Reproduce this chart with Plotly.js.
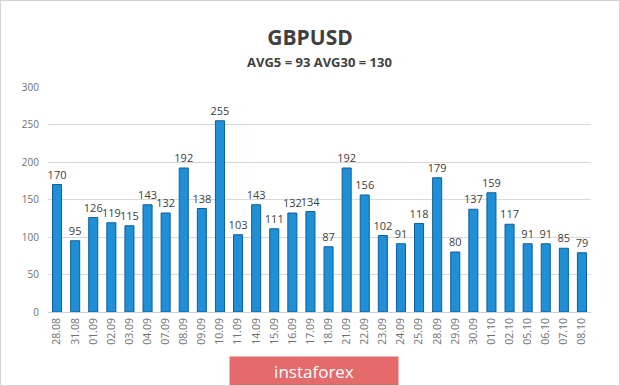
<!DOCTYPE html>
<html>
<head>
<meta charset="utf-8">
<script src="https://cdn.plot.ly/plotly-3.0.1.min.js"></script>
<style>
html,body{margin:0;padding:0;background:#fff;}
#chart{width:620px;height:386px;box-sizing:border-box;border:1px solid #d4d4d4;}
</style>
</head>
<body>
<div id="chart"></div>
<script>
const dates = ["28.08","31.08","01.09","02.09","03.09","04.09","07.09","08.09","09.09","10.09",
  "11.09","14.09","15.09","16.09","17.09","18.09","21.09","22.09","23.09","24.09",
  "25.09","28.09","29.09","30.09","01.10","02.10","05.10","06.10","07.10","08.10"];
const values = [170,95,126,119,115,143,132,192,138,255,
  103,143,111,132,134,87,192,156,102,91,
  118,179,80,137,159,117,91,91,85,79];
const yTicks = [0,50,100,150,200,250,300];
const titleText = "GBPUSD";
const subtitleText = "AVG5 = 93 AVG30 = 130";
const brandText = "instaforex";

const trace = {
  type: "bar",
  x: dates,
  y: values,
  text: values.map(String),
  textposition: "outside",
  constraintext: "none",
  cliponaxis: false,
  textfont: {family: "Open Sans, sans-serif", size: 11, color: "#404040"},
  marker: {
    color: "#1f8fd6",
    line: {color: "#0f5f9a", width: 1}
  },
  hoverinfo: "x+y"
};

const layout = {
  width: 618, height: 384,
  margin: {l: 47, r: 28, t: 86, b: 73, pad: 0},
  paper_bgcolor: "#ffffff",
  plot_bgcolor: "#ffffff",
  showlegend: false,
  bargap: 0.5,
  font: {family: "Open Sans, sans-serif", color: "#595959"},
  title: {
    text: "<b>" + titleText + "</b>",
    font: {family: "Open Sans, sans-serif", size: 21, color: "#404040"},
    x: 0.5, xanchor: "center", y: 0.905, yanchor: "middle"
  },
  xaxis: {
    type: "category",
    tickangle: -90,
    tickfont: {size: 10.5, color: "#6f6f6f"},
    showgrid: false,
    showline: false,
    ticks: "",
    ticklen: 0,
    ticklabelstandoff: 3
  },
  yaxis: {
    range: [0, 300],
    tickvals: yTicks,
    tickfont: {size: 10, color: "#6f6f6f"},
    gridcolor: "#d9d9d9",
    gridwidth: 1,
    zeroline: true,
    zerolinecolor: "#d0d0d0",
    showline: false,
    ticks: "",
    ticklabelstandoff: 8
  },
  annotations: [
    {
      text: "<b>" + subtitleText + "</b>",
      xref: "paper", yref: "paper",
      x: 0.5, y: 1.11, xanchor: "center", yanchor: "middle",
      showarrow: false,
      font: {family: "Open Sans, sans-serif", size: 13, color: "#404040"}
    },
    {
      text: brandText,
      xref: "paper", yref: "paper",
      x: 0.49, y: -0.262, xanchor: "center", yanchor: "middle",
      showarrow: false,
      width: 166, height: 26,
      bgcolor: "#e46a6c",
      borderpad: 1,
      font: {family: "Open Sans, sans-serif", size: 17, color: "#ffffff"}
    }
  ]
};

Plotly.newPlot("chart", [trace], layout, {displayModeBar: false, staticPlot: true});
</script>
</body>
</html>
